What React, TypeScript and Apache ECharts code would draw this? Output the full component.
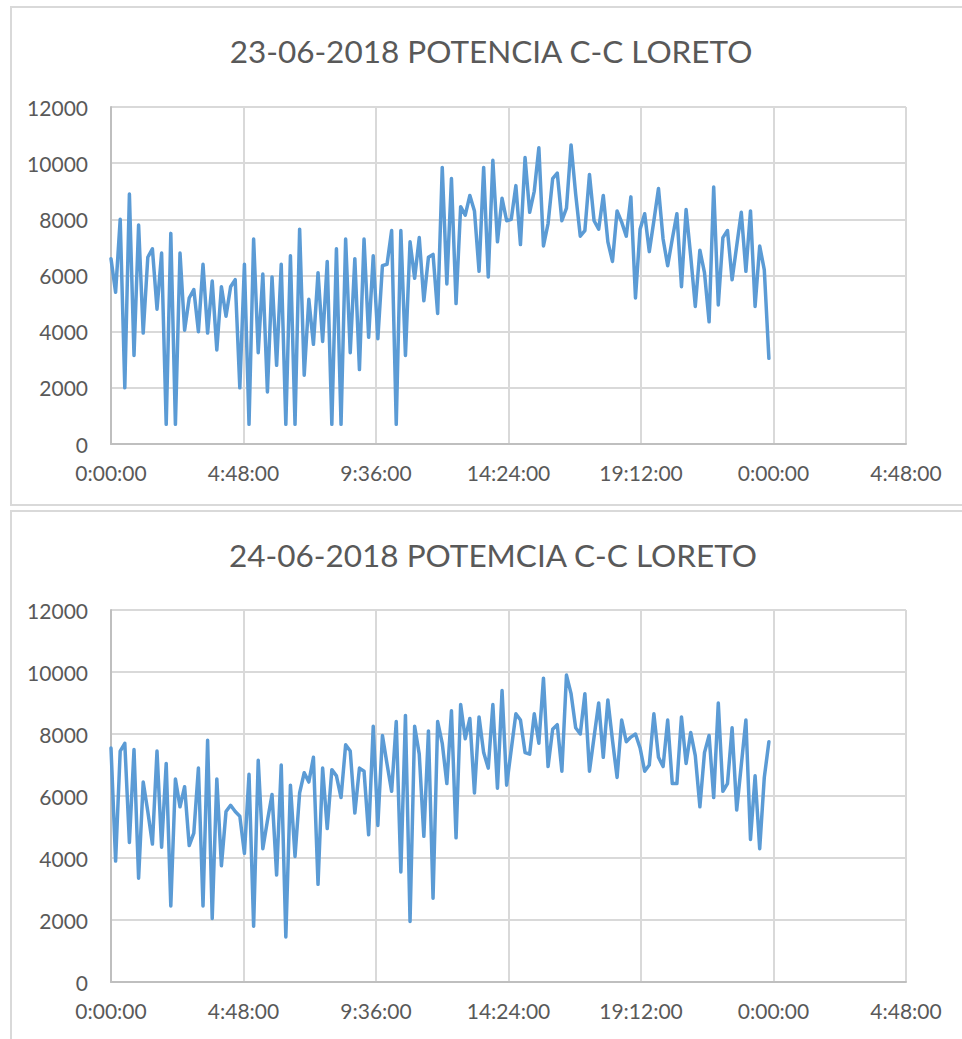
import React, { useEffect, useRef } from "react";
import * as echarts from "echarts";

const TITLE_TOP = "23-06-2018 POTENCIA C-C LORETO";
const TITLE_BOTTOM = "24-06-2018 POTEMCIA C-C LORETO";

// sampling interval of the readings, minutes
const SAMPLE_MINUTES = 10;

// x axis: minutes from 0:00 of the day (ticks every 4:48)
const X_MIN = 0;
const X_MAX = 1728;
const X_INTERVAL = 288;

// y axis
const Y_MIN = 0;
const Y_MAX = 12000;
const Y_INTERVAL = 2000;

const topValues = [
  6600, 5400, 8000, 2000, 8900, 3150, 7800, 3950, 6650, 6950, 4800, 6800,
  700, 7500, 700, 6800, 4050, 5200, 5500, 4000, 6400, 3950, 5800, 3350,
  5600, 4550, 5600, 5850, 2000, 6400, 700, 7300, 3250, 6050, 1850, 5950,
  2800, 6400, 700, 6700, 700, 7650, 2450, 5150, 3550, 6100, 3650, 6500,
  700, 6950, 700, 7300, 3250, 6600, 2650, 7300, 3800, 6700, 3750, 6350,
  6400, 7600, 700, 7600, 3150, 7200, 5900, 7350, 5100, 6650, 6750, 4650,
  9850, 5700, 9450, 5000, 8450, 8150, 8850, 8300, 6150, 9850, 5950, 10100,
  7200, 8750, 7950, 8000, 9200, 7100, 10200, 8250, 9000, 10550, 7050, 7850,
  9450, 9650, 7950, 8400, 10650, 8900, 7400, 7600, 9600, 7950, 7650, 8850,
  7200, 6500, 8300, 7900, 7400, 8800, 5200, 7650, 8200, 6850, 7950, 9100,
  7300, 6350, 7300, 8200, 5600, 8350, 6700, 4900, 6900, 6100, 4350, 9150,
  4950, 7350, 7600, 5850, 7050, 8250, 6150, 8300, 4900, 7050, 6200, 3050,
];

const bottomValues = [
  7550, 3900, 7450, 7700, 4500, 7500, 3350, 6450, 5500, 4450, 7450, 4350,
  7050, 2450, 6550, 5650, 6300, 4400, 4800, 6900, 2450, 7800, 2050, 6550,
  3750, 5500, 5700, 5500, 5350, 4150, 6700, 1800, 7150, 4300, 5200, 6050,
  3450, 7000, 1450, 6350, 4050, 6100, 6750, 6450, 7250, 3150, 6900, 4950,
  6850, 6650, 5950, 7650, 7450, 5450, 6900, 6800, 4750, 8250, 5050, 7950,
  7030, 6150, 8400, 3550, 8600, 1950, 8250, 7350, 4700, 8100, 2700, 8400,
  7700, 6400, 8750, 4650, 8950, 7850, 8500, 6100, 8550, 7400, 6900, 8950,
  6250, 9400, 6350, 7500, 8650, 8450, 7400, 7350, 8650, 7700, 9800, 6950,
  8150, 8300, 6800, 9900, 9300, 8200, 8000, 9300, 6800, 7900, 9000, 7250,
  9100, 7800, 6600, 8450, 7750, 7900, 8000, 7550, 6800, 7000, 8650, 7250,
  6950, 8450, 6400, 6400, 8550, 7050, 8050, 7300, 5650, 7400, 7950, 5950,
  9000, 6150, 6400, 8200, 5550, 7000, 8450, 4600, 6650, 4300, 6600, 7750,
];

const LINE_COLOR = "#5b9bd5";
const TEXT_COLOR = "#595959";
const GRID_COLOR = "#d9d9d9";
const AXIS_COLOR = "#bfbfbf";
const FONT = "Lato, 'Noto Sans', sans-serif";

function toPairs(values: number[]) {
  return values.map((v, i) => [i * SAMPLE_MINUTES, v]);
}

function fmtTime(v: number) {
  const h = Math.floor(v / 60) % 24;
  const m = Math.round(v % 60);
  return `${h}:${m < 10 ? "0" + m : m}:00`;
}

function xAxisFor(gridIndex: number) {
  return {
    type: "value",
    gridIndex,
    min: X_MIN,
    max: X_MAX,
    interval: X_INTERVAL,
    axisLine: { show: true, lineStyle: { color: AXIS_COLOR, width: 2 } },
    axisTick: { show: false },
    axisLabel: {
      formatter: fmtTime,
      color: TEXT_COLOR,
      fontFamily: FONT,
      fontSize: 21,
      margin: 18,
    },
    splitLine: { show: true, lineStyle: { color: GRID_COLOR, width: 2 } },
  };
}

function yAxisFor(gridIndex: number) {
  return {
    type: "value",
    gridIndex,
    min: Y_MIN,
    max: Y_MAX,
    interval: Y_INTERVAL,
    axisLine: { show: true, lineStyle: { color: AXIS_COLOR, width: 2 } },
    axisTick: { show: false },
    axisLabel: {
      formatter: (v: number) => String(v),
      color: TEXT_COLOR,
      fontFamily: FONT,
      fontSize: 21,
      margin: 23,
    },
    splitLine: { show: true, lineStyle: { color: GRID_COLOR, width: 2 } },
  };
}

export default function App() {
  const ref = useRef<HTMLDivElement>(null);

  useEffect(() => {
    if (!ref.current) return;
    const chart = echarts.init(ref.current, undefined, { renderer: "svg" });
    chart.setOption({
      animation: false,
      backgroundColor: "#ffffff",
      graphic: [
        {
          type: "rect",
          shape: { x: 11, y: 7, width: 970, height: 498 },
          style: { fill: "none", stroke: GRID_COLOR, lineWidth: 2 },
          z: -1,
        },
        {
          type: "rect",
          shape: { x: 11, y: 511, width: 970, height: 560 },
          style: { fill: "none", stroke: GRID_COLOR, lineWidth: 2 },
          z: -1,
        },
        {
          type: "text",
          x: 491,
          y: 51,
          style: {
            text: TITLE_TOP,
            fill: TEXT_COLOR,
            font: `31.5px ${FONT}`,
            textAlign: "center",
            textVerticalAlign: "middle",
          },
        },
        {
          type: "text",
          x: 493,
          y: 555,
          style: {
            text: TITLE_BOTTOM,
            fill: TEXT_COLOR,
            font: `31.5px ${FONT}`,
            textAlign: "center",
            textVerticalAlign: "middle",
          },
        },
      ],
      grid: [
        { left: 111, top: 107, width: 795, height: 337 },
        { left: 111, top: 610, width: 795, height: 372 },
      ],
      xAxis: [xAxisFor(0), xAxisFor(1)],
      yAxis: [yAxisFor(0), yAxisFor(1)],
      series: [
        {
          type: "line",
          xAxisIndex: 0,
          yAxisIndex: 0,
          data: toPairs(topValues),
          showSymbol: false,
          lineStyle: { color: LINE_COLOR, width: 3.5, join: "round", cap: "round" },
          itemStyle: { color: LINE_COLOR },
        },
        {
          type: "line",
          xAxisIndex: 1,
          yAxisIndex: 1,
          data: toPairs(bottomValues),
          showSymbol: false,
          lineStyle: { color: LINE_COLOR, width: 3.5, join: "round", cap: "round" },
          itemStyle: { color: LINE_COLOR },
        },
      ],
    });
    return () => chart.dispose();
  }, []);

  return (
    <div
      ref={ref}
      style={{ position: "absolute", left: 0, top: 0, width: 962, height: 1039 }}
    />
  );
}
